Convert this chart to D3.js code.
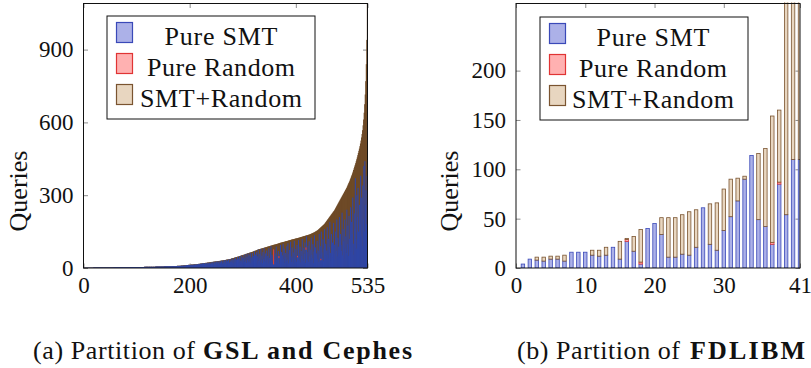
<!DOCTYPE html>
<html>
<head>
<meta charset="utf-8">
<script src="https://cdn.jsdelivr.net/npm/d3@7"></script>
<style>
  body { margin: 0; background: #fff; }
  svg { display: block; }
  .tick line { stroke: #8c8c8c; }
</style>
</head>
<body>
<div id="chart"></div>
<script>
// (a) GSL and Cephes: 535 partitions, sorted by total queries
const gslTotal = [
  1,1,1,1,1,1,1,1,1,1,1,1,1,1,1,1,1,1,2,2,
  2,2,2,2,2,2,2,2,2,2,2,2,2,2,2,2,2,2,2,2,
  2,2,2,2,2,2,2,2,2,2,2,2,2,2,2,2,3,3,3,3,
  3,3,3,3,3,3,3,3,3,3,3,3,3,3,3,3,3,3,3,3,
  3,3,3,3,3,3,3,3,4,4,4,4,4,4,4,4,4,4,4,4,
  4,4,4,4,4,4,4,4,4,4,4,4,4,4,5,5,5,5,5,5,
  5,5,5,5,5,5,5,5,5,5,5,5,5,5,5,6,6,6,6,6,
  6,6,6,6,6,6,6,6,6,6,6,7,7,7,7,7,7,7,7,7,
  7,7,7,7,7,7,7,8,8,8,8,8,8,8,8,8,9,9,9,9,
  9,9,9,10,10,10,10,10,11,11,11,11,11,12,12,12,12,13,13,13,
  13,13,14,14,14,14,14,15,15,15,15,15,15,16,16,16,17,17,17,18,
  18,18,19,19,19,20,20,20,20,21,21,21,22,22,22,23,23,23,24,24,
  24,25,25,25,26,26,26,27,27,27,27,28,28,28,29,29,29,30,30,30,
  31,31,31,32,32,33,33,33,34,34,35,35,35,36,36,37,37,38,39,40,
  40,41,41,42,43,43,44,45,45,46,47,47,48,49,49,50,51,52,52,53,
  54,54,55,56,57,58,58,59,60,61,61,62,63,63,64,65,66,66,67,68,
  69,70,71,71,72,73,74,75,76,77,77,78,78,79,80,80,81,82,82,83,
  84,84,85,86,86,87,88,88,89,90,90,91,92,92,93,94,94,95,96,96,
  97,97,98,99,99,100,101,101,102,103,104,104,105,105,106,107,107,108,108,109,
  110,110,111,111,112,113,113,114,115,115,116,117,117,118,118,119,119,120,121,121,
  122,122,123,123,124,125,125,126,127,127,128,129,129,130,131,131,132,133,133,134,
  135,135,136,137,137,138,139,140,141,142,143,144,145,146,147,148,150,151,152,154,
  155,157,159,161,163,165,167,169,171,173,175,177,179,181,184,187,190,193,196,199,
  202,205,208,211,214,217,220,223,226,229,232,235,238,242,246,250,254,258,262,266,
  270,274,278,282,286,290,294,298,302,306,310,314,318,322,326,330,335,340,345,350,
  355,360,366,372,378,384,390,397,404,411,418,425,432,440,448,456,465,474,483,492,
  502,513,525,538,552,568,588,612,640,675,715,770,840,940,1090
];
const gslSmt = [
  1,1,1,1,1,1,1,1,1,1,1,1,1,1,1,1,1,1,2,2,
  2,2,2,2,2,2,2,2,2,2,2,2,2,2,2,2,2,2,2,2,
  2,2,2,2,2,2,2,2,2,2,2,2,2,2,2,2,3,3,3,3,
  3,3,3,3,3,3,3,3,3,3,3,3,3,3,3,3,3,3,3,3,
  3,3,3,3,3,3,3,3,4,4,4,4,4,4,4,4,4,4,4,4,
  4,4,4,3,4,4,4,4,4,4,3,4,4,4,5,5,4,5,5,5,
  5,4,5,5,5,4,5,5,5,4,5,5,5,4,5,6,5,6,6,5,
  6,5,6,6,5,6,6,5,6,6,5,7,6,7,6,7,7,6,7,7,
  6,7,7,6,7,7,6,8,7,7,6,8,7,8,6,8,9,7,8,9,
  7,9,8,10,8,9,10,7,11,9,10,8,11,12,9,12,10,13,11,12,
  10,13,12,14,10,13,12,15,11,14,13,15,12,16,13,15,17,11,16,18,
  14,18,15,19,12,20,16,18,13,21,17,19,14,22,16,20,18,23,15,21,
  17,25,19,22,14,26,20,24,16,27,22,18,28,21,25,15,29,23,19,30,
  24,17,31,20,26,33,18,28,34,22,30,16,35,25,19,37,27,21,32,40,
  23,34,18,38,26,43,20,35,29,45,17,39,24,48,22,31,51,27,44,19,
  36,54,25,42,30,58,21,47,33,60,24,52,28,63,20,44,35,62,26,50,
  31,70,22,55,38,65,18,48,76,29,40,58,24,79,33,51,20,66,37,82,
  27,45,60,23,72,35,50,19,81,42,28,68,90,31,55,22,47,15,75,38,
  60,25,88,33,49,20,70,41,18,58,95,30,66,24,52,100,36,80,21,62,
  45,28,90,35,102,19,57,74,30,108,48,25,85,40,64,22,112,52,33,78,
  26,95,44,18,115,60,32,88,23,70,50,120,37,28,82,58,105,21,75,130,
  66,34,92,25,110,48,76,30,125,55,40,98,20,68,135,46,85,28,60,112,
  38,72,24,140,56,90,32,150,64,42,118,28,80,160,50,100,35,72,168,55,
  120,40,86,190,62,30,140,75,105,45,185,58,96,36,150,70,200,48,125,88,
  60,210,42,140,95,70,228,52,160,110,38,200,80,130,62,240,98,175,50,215,
  120,85,250,66,190,140,290,100,55,225,160,370,120,80,300,210,330,150,95,260,
  180,380,130,290,90,340,200,420,150,440,260,320,180,380,600
];
// the few partitions with a visible "Pure Random" part
const gslRandomAt = [358, 368, 403, 419, 447, 535];
const gslRandom = [62, 8, 6, 10, 6, 10];
const gslXTicks = [0, 200, 400, 535];
const gslYTicks = [0, 300, 600, 900];

// (b) FDLIBM: 41 partitions
const fdlSmt = [4,9,8,7,9,9,7,16,16,16, 13,12,13,21,9,27,17,4,40,45, 34,11,11,14,13,21,61,24,18,38, 52,68,90,114,49,42,24,85,54,110, 110];
const fdlRandom = [0,0,0,0,0,0,0,0,0,0, 0,0,0,0,0,2,0,2,0,0, 0,0,0,0,0,0,0,0,0,0, 0,0,0,0,0,0,2,2,0,0, 0];
const fdlBoth = [0,0,3,4,3,3,6,0,0,0, 5,6,8,0,18,1,15,33,0,0, 17,40,40,40,44,38,0,41,48,42, 38,23,3,0,67,79,128,73,246,230, 290];
const fdlXTicks = [0, 10, 20, 30, 41];
const fdlYTicks = [0, 50, 100, 150, 200];
const fdlYMax = 268;

const seriesNames = ['Pure SMT', 'Pure Random', 'SMT+Random'];

const colors = {
  smtFill: '#acb1e8', smtLine: '#3a49b8',
  rndFill: '#ffb1b1', rndLine: '#e03434',
  bothFill: '#e8d6c0', bothLine: '#7a5430',
  smtDense: '#2f46a6', rndDense: '#e2402e', bothDense: '#6e4a27'
};

const FONT = '"Liberation Serif", "Times New Roman", serif';

const svg = d3.select('#chart').append('svg').attr('width', 811).attr('height', 368)
  .attr('font-family', FONT);

function drawAxes(g, x, y, xTicks, yTicks, box) {
  const tick = 4.5;
  g.append('g').attr('transform', `translate(0,${box.y1})`)
    .call(d3.axisBottom(x).tickValues(xTicks).tickSize(-tick).tickPadding(9).tickFormat(d3.format('d')));
  g.append('g').attr('transform', `translate(0,${box.y0})`)
    .call(d3.axisTop(x).tickValues(xTicks).tickSize(-tick).tickFormat(''));
  g.append('g').attr('transform', `translate(${box.x0},0)`)
    .call(d3.axisLeft(y).tickValues(yTicks).tickSize(-tick).tickPadding(10).tickFormat(d3.format('d')));
  g.append('g').attr('transform', `translate(${box.x1},0)`)
    .call(d3.axisRight(y).tickValues(yTicks).tickSize(-tick).tickFormat(''));
  g.selectAll('.domain').remove();
  g.selectAll('g').attr('font-family', FONT);
  g.selectAll('.tick text').attr('font-size', 23).attr('font-family', FONT).attr('fill', '#111');
}

function drawFrame(g, box) {
  g.append('rect')
    .attr('x', box.x0).attr('y', box.y0)
    .attr('width', box.x1 - box.x0).attr('height', box.y1 - box.y0)
    .attr('fill', 'none').attr('stroke', '#111').attr('stroke-width', 1);
}

function drawLegend(g, lx, ly, textCx) {
  const lg = g.append('g');
  lg.append('rect').attr('x', lx).attr('y', ly).attr('width', 208).attr('height', 103)
    .attr('fill', '#fff').attr('stroke', '#111').attr('stroke-width', 1);
  const fills = [colors.smtFill, colors.rndFill, colors.bothFill];
  const lines = [colors.smtLine, colors.rndLine, colors.bothLine];
  const widths = [113, 148, 162];
  seriesNames.forEach((name, i) => {
    lg.append('rect')
      .attr('x', lx + 9.5).attr('y', ly + 6.5 + i * 31)
      .attr('width', 16).attr('height', 20)
      .attr('fill', fills[i]).attr('stroke', lines[i]).attr('stroke-width', 1.2);
    lg.append('text')
      .attr('x', textCx).attr('y', ly + 28.5 + i * 31)
      .attr('text-anchor', 'middle')
      .attr('font-family', FONT).attr('font-size', 26)
      .attr('textLength', widths[i]).attr('lengthAdjust', 'spacing')
      .attr('fill', '#111')
      .text(name);
  });
}

function yLabel(g, cx, cy) {
  g.append('text')
    .attr('transform', `translate(${cx},${cy}) rotate(-90)`)
    .attr('text-anchor', 'middle').attr('dominant-baseline', 'central')
    .attr('font-family', FONT).attr('font-size', 26)
    .attr('fill', '#111')
    .text('Queries');
}

// ---------- (a) GSL and Cephes ----------
{
  const box = { x0: 83.5, x1: 367.5, y0: 3.5, y1: 268 };
  const g = svg.append('g');
  const x = d3.scaleLinear().domain([0, gslTotal.length]).range([box.x0, box.x1]);
  const y = d3.scaleLinear().domain([0, d3.max(gslTotal)]).range([box.y1, box.y0]);

  g.append('clipPath').attr('id', 'clipA').append('rect')
    .attr('x', box.x0).attr('y', box.y0).attr('width', box.x1 - box.x0).attr('height', box.y1 - box.y0);

  drawAxes(g, x, y, gslXTicks, gslYTicks, box);

  const bars = g.append('g').attr('clip-path', 'url(#clipA)');
  const rows = gslTotal.map((t, k) => {
    const pos = k + 1;
    const ri = gslRandomAt.indexOf(pos);
    return { pos, total: t, smt: gslSmt[k], rnd: ri >= 0 ? gslRandom[ri] : 0 };
  });
  const bw = x(1) - x(0);

  // bars are thinner than a pixel: widen them a little so they merge into solid areas
  bars.selectAll('rect.both').data(rows).enter().append('rect')
    .attr('class', 'both')
    .attr('x', d => x(d.pos - 0.5) - 0.4)
    .attr('width', bw + 0.8)
    .attr('y', d => y(d.total))
    .attr('height', d => y(0) - y(d.total))
    .attr('fill', colors.bothDense);

  bars.selectAll('rect.smt').data(rows).enter().append('rect')
    .attr('class', 'smt')
    .attr('x', d => x(d.pos - 0.5) - 0.2)
    .attr('width', bw + 0.5)
    .attr('y', d => y(d.smt))
    .attr('height', d => y(0) - y(d.smt))
    .attr('fill', colors.smtDense);

  bars.selectAll('rect.rnd').data(rows.filter(d => d.rnd > 0)).enter().append('rect')
    .attr('class', 'rnd')
    .attr('x', d => x(d.pos - 0.5) - 0.2)
    .attr('width', bw + 0.5)
    .attr('y', d => y(d.smt + d.rnd))
    .attr('height', d => y(d.smt) - y(d.smt + d.rnd))
    .attr('fill', colors.rndDense);

  drawFrame(g, box);
  drawLegend(g, 107, 16, 221);
  yLabel(g, 18, 191);
}

// ---------- (b) FDLIBM ----------
{
  const box = { x0: 516, x1: 800, y0: 3.5, y1: 268 };
  const g = svg.append('g');
  const x = d3.scaleLinear().domain([0, fdlSmt.length]).range([box.x0, box.x1]);
  const y = d3.scaleLinear().domain([0, fdlYMax]).range([box.y1, box.y0]);

  g.append('clipPath').attr('id', 'clipB').append('rect')
    .attr('x', box.x0).attr('y', box.y0 - 1).attr('width', box.x1 - box.x0).attr('height', box.y1 - box.y0 + 1);

  drawAxes(g, x, y, fdlXTicks, fdlYTicks, box);

  const rows = fdlSmt.map((s, k) => ({ pos: k + 1, smt: s, rnd: fdlRandom[k], both: fdlBoth[k] }));
  const bw = (x(1) - x(0)) * 0.5;
  const bars = g.append('g').attr('clip-path', 'url(#clipB)');

  const layers = [
    { key: 'smt', lo: d => 0, hi: d => d.smt, fill: colors.smtFill, line: colors.smtLine },
    { key: 'rnd', lo: d => d.smt, hi: d => d.smt + d.rnd, fill: colors.rndFill, line: colors.rndLine },
    { key: 'both', lo: d => d.smt + d.rnd, hi: d => d.smt + d.rnd + d.both, fill: colors.bothFill, line: colors.bothLine }
  ];
  layers.forEach(L => {
    bars.selectAll('rect.' + L.key).data(rows.filter(d => L.hi(d) > L.lo(d))).enter().append('rect')
      .attr('class', L.key)
      .attr('x', d => x(d.pos) - bw / 2)
      .attr('width', bw)
      .attr('y', d => y(L.hi(d)))
      .attr('height', d => y(L.lo(d)) - y(L.hi(d)))
      .attr('fill', L.fill)
      .attr('stroke', L.line)
      .attr('stroke-width', 0.8);
  });

  drawFrame(g, box);
  drawLegend(g, 540, 17, 653);
  yLabel(g, 449, 191);
}

// ---------- captions ----------
function caption(x0, plain, plainW, bold, boldX, boldW) {
  svg.append('text').attr('x', x0).attr('y', 359)
    .attr('font-family', FONT).attr('font-size', 26)
    .attr('textLength', plainW).attr('lengthAdjust', 'spacing')
    .attr('fill', '#111').text(plain);
  svg.append('text').attr('x', boldX).attr('y', 359)
    .attr('font-family', FONT).attr('font-size', 26).attr('font-weight', 'bold')
    .attr('textLength', boldW).attr('lengthAdjust', 'spacing')
    .attr('fill', '#111').text(bold);
}
caption(33, '(a) Partition of', 162, 'GSL and Cephes', 203, 209);
caption(517, '(b) Partition of', 163, 'FDLIBM', 690, 115);
</script>
</body>
</html>
